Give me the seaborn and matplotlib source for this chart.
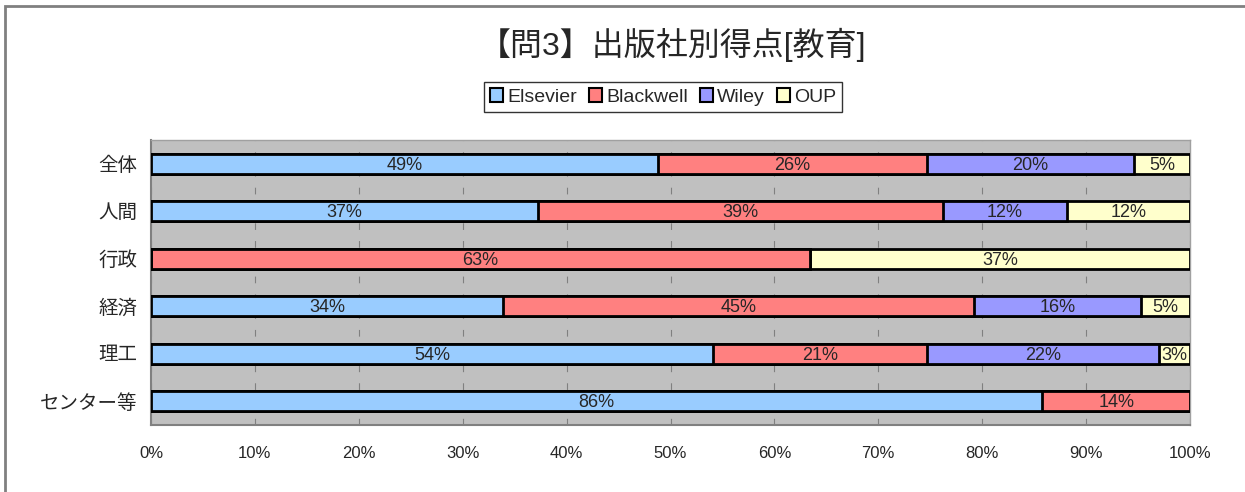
import pandas as pd
import matplotlib.pyplot as plt
import seaborn as sns
from matplotlib.patches import Patch, Rectangle

# data (percent of each row)
categories = ['全体', '人間', '行政', '経済', '理工', 'センター等']
publishers = ['Elsevier', 'Blackwell', 'Wiley', 'OUP']
elsevier = [48.8, 37.2, 0.0, 33.9, 54.1, 85.8]
blackwell = [25.9, 39.0, 63.4, 45.3, 20.6, 14.2]
wiley = [19.9, 12.0, 0.0, 16.1, 22.3, 0.0]
oup = [5.4, 11.8, 36.6, 4.7, 3.0, 0.0]
colors = ['#99CCFF', '#FF8080', '#9999FF', '#FFFFCC']

df = pd.DataFrame({'category': categories, 'Elsevier': elsevier,
                   'Blackwell': blackwell, 'Wiley': wiley, 'OUP': oup})
cum = df[publishers].cumsum(axis=1)

sns.set_style('white')
plt.rcParams['font.family'] = ['Liberation Sans', 'Noto Sans CJK JP', 'DejaVu Sans']

fig = plt.figure(figsize=(12.45, 4.92), dpi=100)
ax = fig.add_axes([151 / 1245, 1 - 425 / 492, 1039 / 1245, 285 / 492])
ax.set_facecolor('#C0C0C0')

# stacked bars: draw cumulative totals from the back to the front
for pub, col in reversed(list(zip(publishers, colors))):
    sns.barplot(x=cum[pub], y=df['category'], orient='h', color=col,
                edgecolor='black', linewidth=2, width=0.43, ax=ax,
                saturation=1, zorder=3)

# segment labels
for i, cat in enumerate(categories):
    for pub in publishers:
        v = df.loc[i, pub]
        if v <= 0:
            continue
        ax.text(cum.loc[i, pub] - v / 2, i + 0.03, f'{round(v):d}%',
                ha='center', va='center', fontsize=13, zorder=4)

ax.set_xlim(0, 100)
ax.set_ylim(5.5, -0.5)
ax.set_xticks(range(0, 101, 10))
ax.set_xticklabels([f'{t}%' for t in range(0, 101, 10)], fontsize=12)
ax.set_yticks(range(len(categories)))
ax.set_yticklabels(categories, fontsize=14)
ax.set_xlabel('')
ax.set_ylabel('')
ax.tick_params(axis='x', length=0, pad=15)
ax.tick_params(axis='y', length=0, pad=10)
ax.set_yticks([k + 0.5 for k in range(-1, len(categories))], minor=True)
ax.tick_params(axis='y', which='minor', direction='in', length=5, width=1, color='#808080')
ax.grid(axis='x', color='#808080', linestyle=(0, (6, 10)), linewidth=0.8, zorder=1)
ax.set_axisbelow(True)
for side in ['left', 'bottom']:
    ax.spines[side].set_color('#808080')
    ax.spines[side].set_linewidth(1.5)
for side in ['top', 'right']:
    ax.spines[side].set_color('#A0A0A0')
    ax.spines[side].set_linewidth(1)

fig.text(672 / 1245, 1 - 45 / 492, '【問3】出版社別得点[教育]', ha='center', va='center',
         fontsize=23)

handles = [Patch(facecolor=c, edgecolor='black', linewidth=1.5) for c in colors]
leg = fig.legend(handles, publishers, loc='center', bbox_to_anchor=(663 / 1245, 1 - 97 / 492),
                 ncol=4, frameon=True, fancybox=False, fontsize=14,
                 handlelength=0.7, handleheight=0.7, handletextpad=0.2,
                 columnspacing=0.6, borderpad=0.3, edgecolor='black')
leg.get_frame().set_linewidth(1)

# outer chart border
fig.patches.append(Rectangle((5 / 1245, -0.05), 1.1, 1 - 6 / 492 + 0.05,
                             transform=fig.transFigure, fill=False,
                             edgecolor='#808080', linewidth=2))

fig.savefig('out.png', dpi=100)
